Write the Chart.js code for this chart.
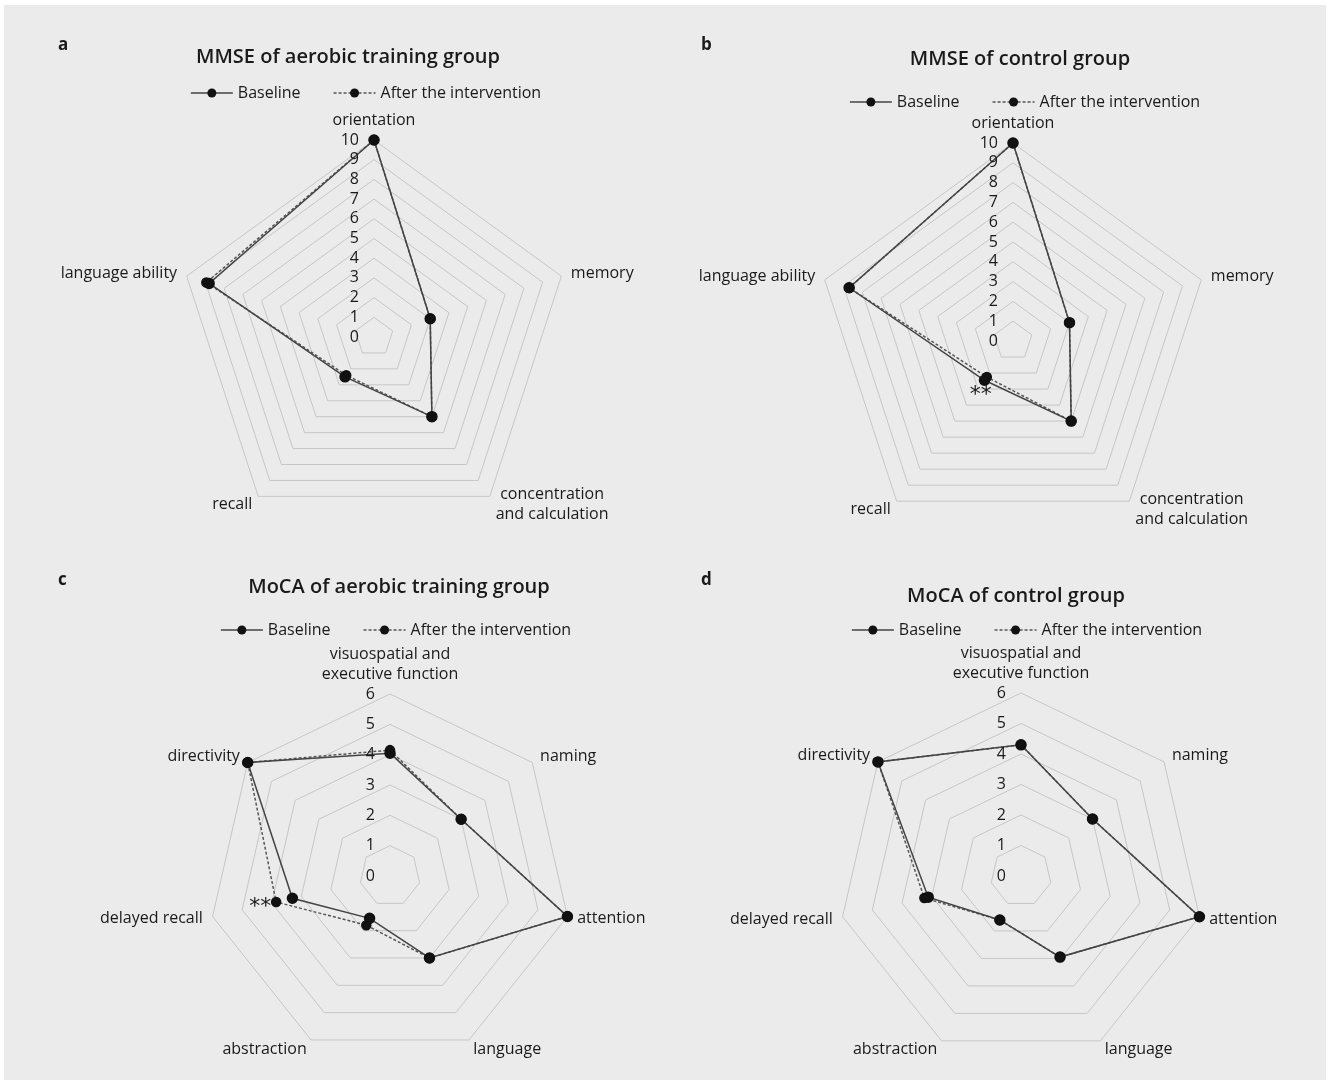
<!DOCTYPE html>
<html>
<head>
<meta charset="utf-8">
<script src="https://cdn.jsdelivr.net/npm/chart.js@4"></script>
<style>
  body { margin: 0; background: #fff; }
  #page { position: relative; width: 1330px; height: 1083px; }
  #bg { position: absolute; left: 4px; top: 5px; width: 1322px; height: 1075px; background: #ebebeb; }
  .panel { position: absolute; }
</style>
</head>
<body>
<div id="page">
  <div id="bg"></div>
  <div class="panel" style="left:0;top:0"><canvas id="mmseAerobic" width="665" height="540"></canvas></div>
  <div class="panel" style="left:665px;top:0"><canvas id="mmseControl" width="665" height="540"></canvas></div>
  <div class="panel" style="left:0;top:540px"><canvas id="mocaAerobic" width="665" height="543"></canvas></div>
  <div class="panel" style="left:665px;top:540px"><canvas id="mocaControl" width="665" height="543"></canvas></div>
</div>
<script>
// Données
const mmseLabels = ["orientation", "memory", ["concentration", "and calculation"], "recall", "language ability"];
const mocaLabels = [["visuospatial and", "executive function"], "naming", "attention", "language", "abstraction", "delayed recall", "directivity"];
const mmseTicks = [0, 1, 2, 3, 4, 5, 6, 7, 8, 9, 10];
const mocaTicks = [0, 1, 2, 3, 4, 5, 6];
const seriesNames = ["Baseline", "After the intervention"];

const mmseAerobicBaseline = [10, 3, 5, 2.5, 8.8];
const mmseAerobicAfter = [10, 3, 5, 2.4, 8.95];
const mmseControlBaseline = [10, 3, 5, 2.45, 8.7];
const mmseControlAfter = [10, 3, 5, 2.25, 8.7];
const mocaAerobicBaseline = [4.05, 3, 6, 3, 1.55, 3.3, 6];
const mocaAerobicAfter = [4.15, 3, 6, 3, 1.8, 3.85, 6];
const mocaControlBaseline = [4.3, 3, 6, 2.95, 1.6, 3.12, 6];
const mocaControlAfter = [4.3, 3, 6, 2.95, 1.6, 3.25, 6];

const FONT = "'Open Sans', sans-serif";
const TEXT = "#1a1a1a";

// Titre, lettre, légende, graduations et libellés des axes
const panelDecor = {
  id: "panelDecor",
  afterDraw(chart, args, o) {
    const ctx = chart.ctx;
    const scale = chart.scales.r;
    ctx.save();
    ctx.fillStyle = TEXT;
    ctx.textBaseline = "middle";

    ctx.font = "bold 17px " + FONT;
    ctx.textAlign = "left";
    ctx.fillText(o.letter, o.letterX, o.letterY);

    ctx.font = "600 20px " + FONT;
    ctx.textAlign = "center";
    ctx.fillText(o.title, o.titleX, o.titleY);

    // légende
    ctx.font = "16px " + FONT;
    const sets = chart.data.datasets;
    const symW = 42, gapTxt = 5, gapItem = 33;
    const widths = sets.map((d) => symW + gapTxt + ctx.measureText(d.label).width);
    const total = widths.reduce((a, b) => a + b, 0) + gapItem * (sets.length - 1);
    let x = o.legendX - total / 2;
    sets.forEach((d, i) => {
      ctx.strokeStyle = d.borderColor;
      ctx.lineWidth = d.borderWidth;
      ctx.setLineDash(d.borderDash || []);
      ctx.beginPath();
      ctx.moveTo(x, o.legendY);
      ctx.lineTo(x + symW, o.legendY);
      ctx.stroke();
      ctx.setLineDash([]);
      ctx.fillStyle = d.pointBackgroundColor;
      ctx.beginPath();
      ctx.arc(x + symW / 2, o.legendY, 4.5, 0, Math.PI * 2);
      ctx.fill();
      ctx.fillStyle = TEXT;
      ctx.textAlign = "left";
      ctx.fillText(d.label, x + symW + gapTxt, o.legendY);
      x += widths[i] + gapItem;
    });

    // graduations
    ctx.font = "16px " + FONT;
    ctx.textAlign = "right";
    o.ticks.forEach((v) => {
      const dist = scale.getDistanceFromCenterForValue(v);
      ctx.fillText(String(v), scale.xCenter - 15, scale.yCenter - dist);
    });

    // libellés des axes
    const lh = 20;
    chart.data.labels.forEach((lab, i) => {
      const p = scale.getPointPosition(i, scale.drawingArea + 10);
      const lines = Array.isArray(lab) ? lab : [lab];
      const w = Math.max(...lines.map((l) => ctx.measureText(l).width));
      const dx = p.x - scale.xCenter;
      let cx = p.x;
      if (dx > 1) cx = p.x + w / 2;
      else if (dx < -1) cx = p.x - w / 2;
      const top = i === 0 ? p.y - lines.length * lh : p.y - (lines.length * lh) / 2;
      ctx.textAlign = "center";
      lines.forEach((l, k) => ctx.fillText(l, cx, top + lh * k + lh / 2));
    });

    // astérisques
    if (o.stars) {
      const s = o.stars;
      const v = sets[s.dataset].data[s.index];
      const p = scale.getPointPositionForValue(s.index, v);
      ctx.font = "22px 'DejaVu Sans', sans-serif";
      ctx.textAlign = "center";
      ctx.fillText("**", p.x + s.dx, p.y + s.dy);
    }
    ctx.restore();
  },
};

function makeRadar(id, labels, ticks, baseline, after, decor, padding) {
  decor.ticks = ticks;
  return new Chart(document.getElementById(id), {
    type: "radar",
    data: {
      labels: labels,
      datasets: [
        {
          label: seriesNames[0],
          data: baseline,
          borderColor: "#444",
          borderWidth: 1.5,
          pointBackgroundColor: "#111",
          pointBorderColor: "#111",
          pointRadius: 5,
          fill: false,
        },
        {
          label: seriesNames[1],
          data: after,
          borderColor: "#555",
          borderWidth: 1.5,
          borderDash: [3, 2],
          pointBackgroundColor: "#111",
          pointBorderColor: "#111",
          pointRadius: 4.5,
          fill: false,
        },
      ],
    },
    options: {
      responsive: false,
      animation: false,
      layout: { padding: padding },
      plugins: {
        legend: { display: false },
        tooltip: { enabled: false },
        panelDecor: decor,
      },
      scales: {
        r: {
          min: ticks[0],
          max: ticks[ticks.length - 1],
          ticks: { display: false, stepSize: 1 },
          grid: { color: "#c6c6c6", lineWidth: 1 },
          angleLines: { display: false },
          pointLabels: { display: false },
        },
      },
    },
    plugins: [panelDecor],
  });
}

makeRadar("mmseAerobic", mmseLabels, mmseTicks, mmseAerobicBaseline, mmseAerobicAfter,
  { letter: "a", letterX: 58, letterY: 45, title: "MMSE of aerobic training group", titleX: 348, titleY: 57, legendX: 366, legendY: 93 },
  { left: 177, top: 140, right: 94, bottom: 6 });

makeRadar("mmseControl", mmseLabels, mmseTicks, mmseControlBaseline, mmseControlAfter,
  { letter: "b", letterX: 36, letterY: 45, title: "MMSE of control group", titleX: 355, titleY: 59, legendX: 360, legendY: 102,
    stars: { dataset: 1, index: 3, dx: -6, dy: 18 } },
  { left: 150, top: 143, right: 119, bottom: 1 });

makeRadar("mocaAerobic", mocaLabels, mocaTicks, mocaAerobicBaseline, mocaAerobicAfter,
  { letter: "c", letterX: 58, letterY: 40, title: "MoCA of aerobic training group", titleX: 399, titleY: 47, legendX: 396, legendY: 90,
    stars: { dataset: 1, index: 5, dx: -16, dy: 5 } },
  { left: 208, top: 154, right: 93, bottom: 25 });

makeRadar("mocaControl", mocaLabels, mocaTicks, mocaControlBaseline, mocaControlAfter,
  { letter: "d", letterX: 36, letterY: 40, title: "MoCA of control group", titleX: 351, titleY: 56, legendX: 362, legendY: 90 },
  { left: 173, top: 153, right: 126, bottom: 24 });
</script>
</body>
</html>
